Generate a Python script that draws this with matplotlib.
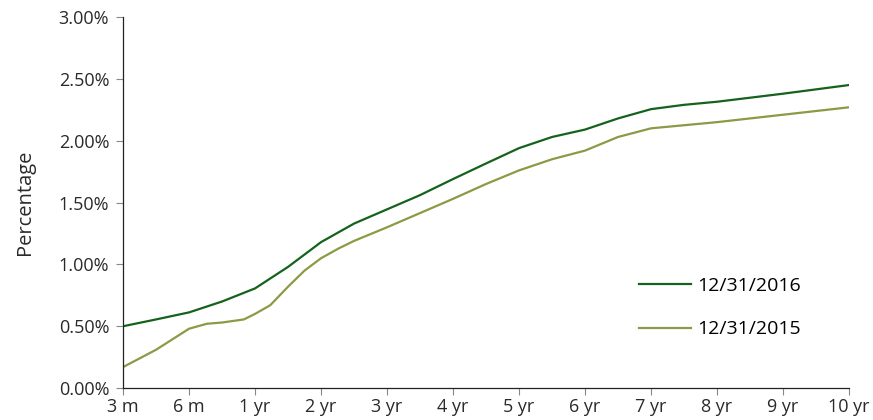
import matplotlib.pyplot as plt
from matplotlib.ticker import FuncFormatter

plt.rcParams['font.family'] = ['Open Sans', 'DejaVu Sans']

# tenor labels on the x axis (equally spaced categories)
tenors = ["3 m", "6 m", "1 yr", "2 yr", "3 yr", "4 yr", "5 yr",
          "6 yr", "7 yr", "8 yr", "9 yr", "10 yr"]

# curve points, x given in category-index units
x_2016 = [0, 0.5, 1, 1.5, 2, 2.5, 3, 3.5, 4, 4.5, 5, 5.5, 6, 6.5, 7, 7.5, 8, 8.5, 9, 10, 11]
y_2016 = [0.50, 0.555, 0.612, 0.70, 0.806, 0.98, 1.18, 1.33, 1.445, 1.56, 1.69,
          1.816, 1.94, 2.03, 2.09, 2.18, 2.255, 2.29, 2.315, 2.38, 2.45]

x_2015 = [0, 0.5, 1, 1.27, 1.5, 1.83, 2, 2.23, 2.5, 2.75, 3, 3.27, 3.5, 4, 4.5,
          5, 5.5, 6, 6.5, 7, 7.5, 8, 8.5, 9, 10, 11]
y_2015 = [0.17, 0.31, 0.48, 0.52, 0.53, 0.555, 0.60, 0.67, 0.82, 0.95, 1.05,
          1.13, 1.19, 1.30, 1.415, 1.53, 1.65, 1.76, 1.85, 1.92, 2.03, 2.10,
          2.125, 2.15, 2.21, 2.27]

fig = plt.figure(figsize=(8.73, 4.20), dpi=100)
ax = fig.add_axes([0.141, 0.076, 0.8315, 0.8835])

ax.plot(x_2016, y_2016, color='#15621c', linewidth=1.6, label='12/31/2016')
ax.plot(x_2015, y_2015, color='#8c9a45', linewidth=1.6, label='12/31/2015')

ax.set_xlim(0, len(tenors) - 1)
ax.set_ylim(0, 3.0)
ax.set_xticks(range(len(tenors)))
ax.set_xticklabels(tenors)
ax.set_yticks([0, 0.5, 1.0, 1.5, 2.0, 2.5, 3.0])
ax.yaxis.set_major_formatter(FuncFormatter(lambda v, p: f"{v:.2f}%"))

for s in ['top', 'right']:
    ax.spines[s].set_visible(False)
for s in ['left', 'bottom']:
    ax.spines[s].set_color('#222222')
    ax.spines[s].set_linewidth(0.9)
ax.tick_params(axis='both', labelsize=13, color='#888888', length=5, width=0.8,
               labelcolor='#2a2a2a')
ax.tick_params(axis='x', pad=2)
ax.tick_params(axis='y', pad=5)

ax.set_ylabel("Percentage", fontsize=14.5, color='#2a2a2a', labelpad=17)

ax.legend(loc='upper left', bbox_to_anchor=(0.70, 0.32), frameon=False,
          fontsize=14, handlelength=2.65, handletextpad=0.35, labelspacing=1.3,
          borderaxespad=0)

fig.savefig("out.png", dpi=100)
